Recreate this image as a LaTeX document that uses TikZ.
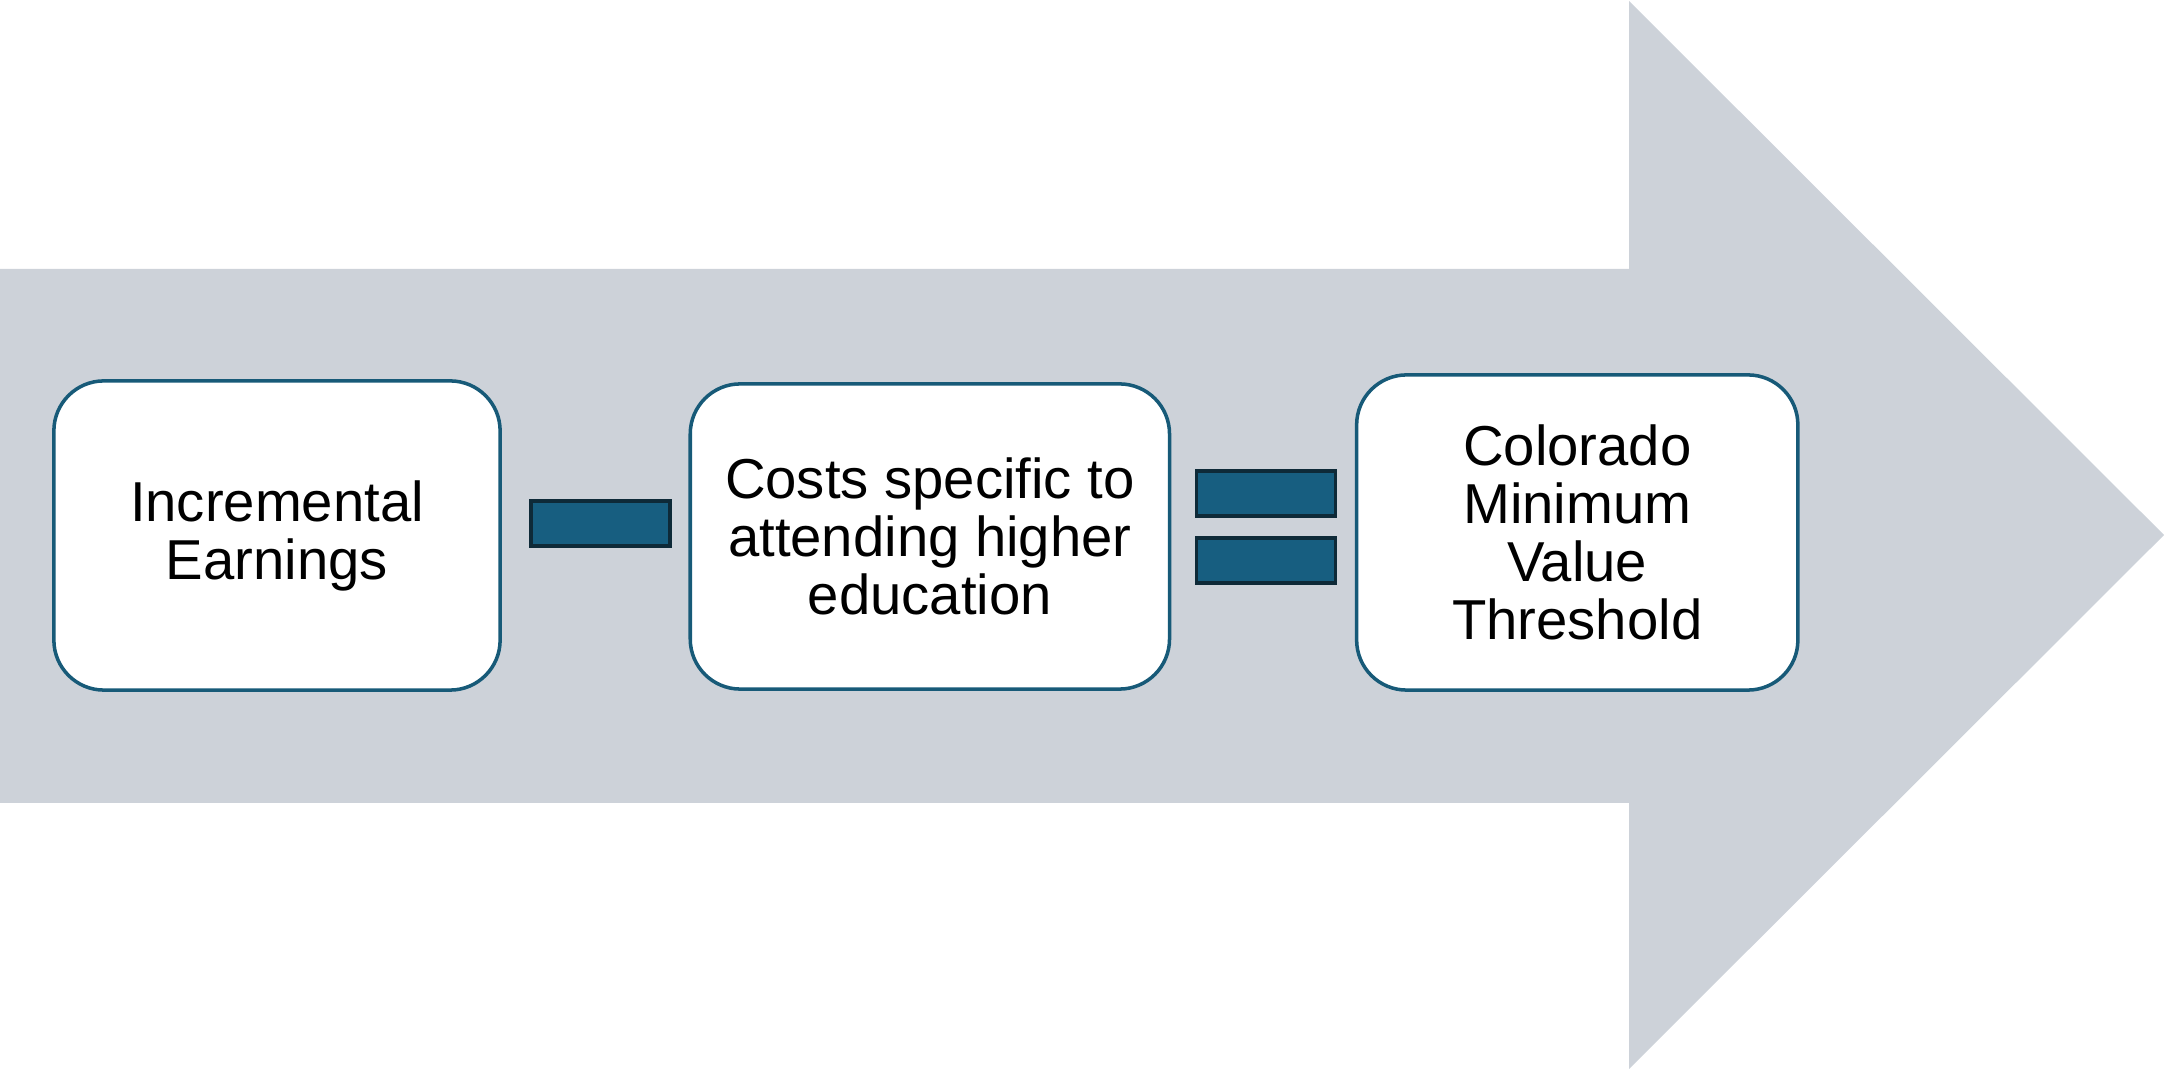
\documentclass[tikz,border=0pt]{standalone}
\usepackage{fontspec}
\setmainfont{Liberation Sans}
\usetikzlibrary{positioning}
\definecolor{ArrowGray}{HTML}{CDD2D9}
\definecolor{BoxEdge}{HTML}{175A78}
\definecolor{BarFill}{HTML}{175E80}
\definecolor{BarEdge}{HTML}{0E2A38}

\begin{document}
\begin{tikzpicture}[
    x=0.01cm, y=-0.01cm,
    box/.style={draw=BoxEdge, line width=1pt, fill=white, rounded corners=5mm, align=center, inner sep=0pt, outer sep=0pt, font=\fontsize{16}{16.5}\selectfont},
    bar/.style={draw=BarEdge, line width=1pt, fill=BarFill, inner sep=0pt, outer sep=0pt, minimum width=13.9mm, minimum height=4.5mm}
]
\useasboundingbox (0,0) rectangle (2164,1071);
% big arrow behind the boxes
\fill[ArrowGray] (0,269) -- (1629,269) -- (1629,1) -- (2164,535) -- (1629,1069) -- (1629,803) -- (0,803) -- cycle;

\node[box, minimum width=44.6mm, minimum height=30.9mm] (earn) at (277,535.5) {Incremental\\Earnings};
\node[bar, right=3.1mm of earn, yshift=1.2mm] (minus) {};
\node[box, minimum width=47.9mm, minimum height=30.5mm, right=2mm of minus, yshift=-1.3mm] (cost) {Costs specific to\\attending higher\\education};
\node[bar, right=2.7mm of cost, yshift=4.3mm] (eqtop) {};
\node[bar, below=2.2mm of eqtop] (eqbot) {};
\node[box, minimum width=44.1mm, minimum height=31.5mm, right=2.1mm of eqtop, yshift=-3.9mm] (thresh) {Colorado\\Minimum\\Value\\Threshold};
\end{tikzpicture}
\end{document}
